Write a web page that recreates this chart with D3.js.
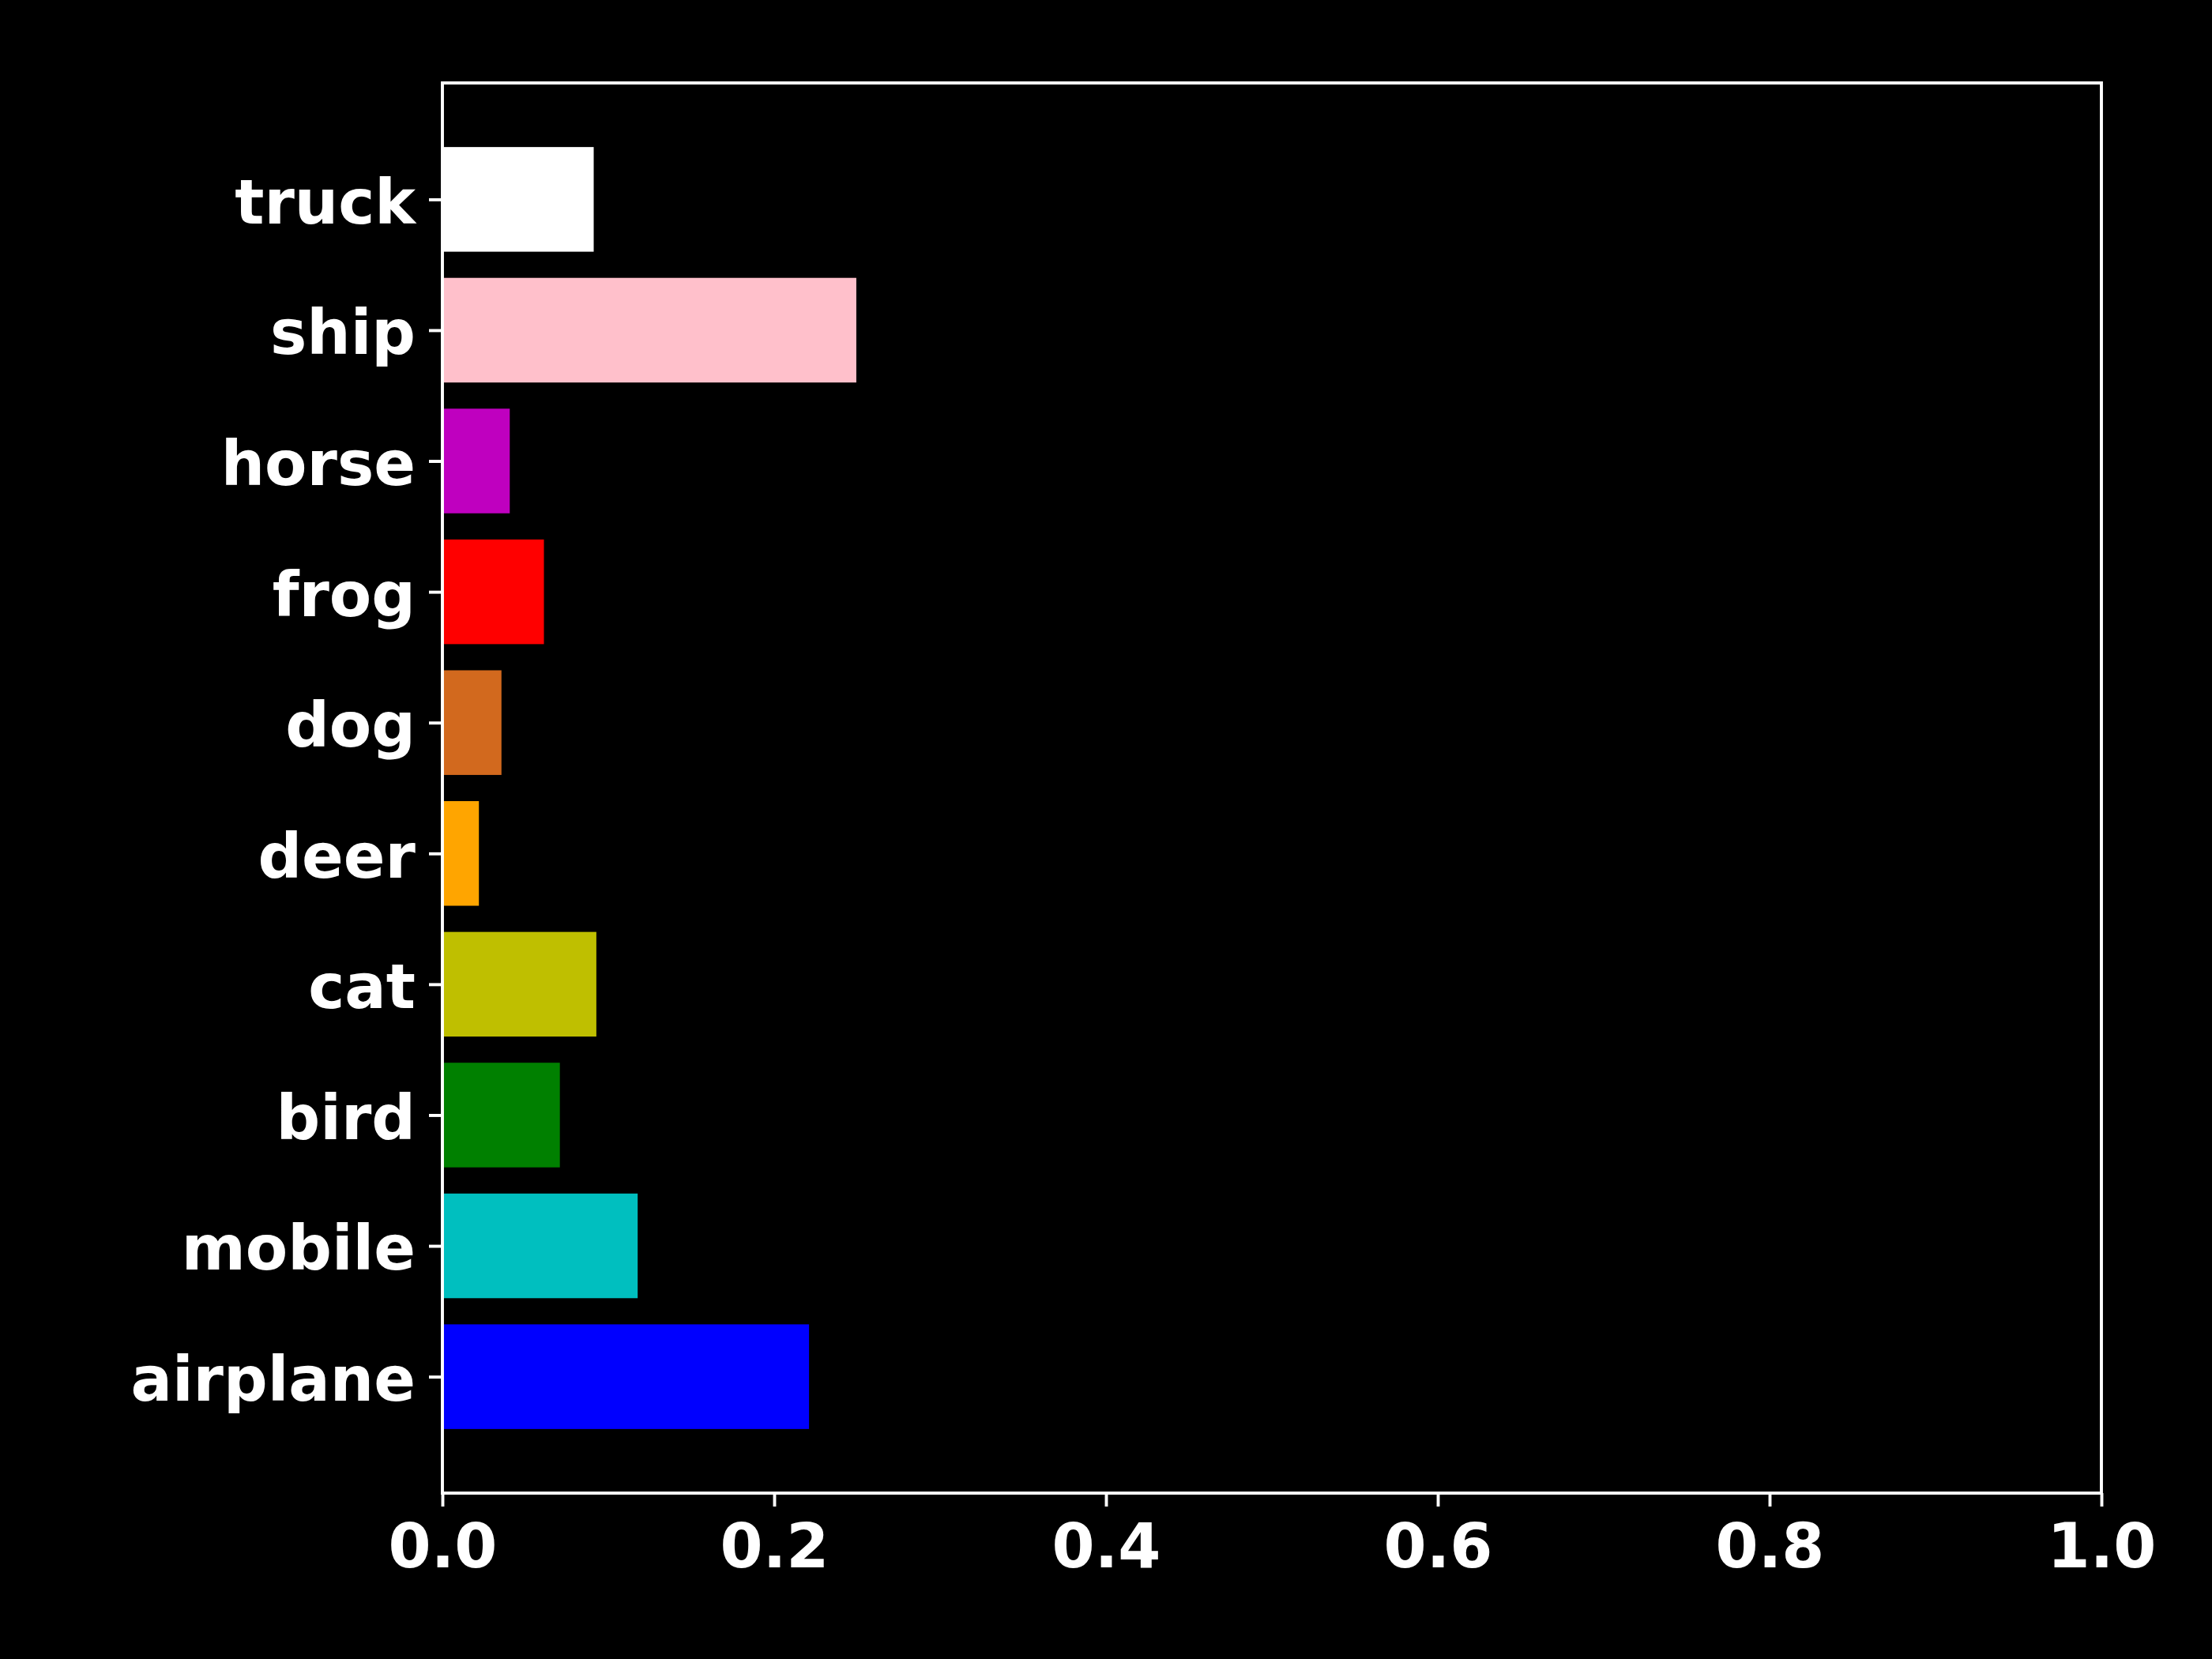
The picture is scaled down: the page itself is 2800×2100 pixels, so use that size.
<!DOCTYPE html>
<html>
<head>
<meta charset="utf-8">
<script src="https://cdn.jsdelivr.net/npm/d3@7"></script>
<style>
  html, body { margin: 0; padding: 0; background: #000; }
  svg { display: block; }
  text { font-family: "DejaVu Sans", sans-serif; font-weight: bold; }
</style>
</head>
<body>
<svg id="chart" width="2800" height="2100"></svg>
<script>
// Data
const categories = ["airplane", "mobile", "bird", "cat", "deer", "dog", "frog", "horse", "ship", "truck"];
const values = [0.221, 0.1177, 0.0708, 0.0928, 0.0220, 0.0356, 0.0612, 0.0406, 0.2495, 0.0912];
const barColors = ["#0000ff", "#00bfbf", "#008000", "#bfbf00", "#ffa500", "#d2691e", "#ff0000", "#bf00bf", "#ffc0cb", "#ffffff"];
const xTicks = [0.0, 0.2, 0.4, 0.6, 0.8, 1.0];

const W = 2800, H = 2100;
const axLeft = 560, axRight = 2660, axTop = 105, axBottom = 1890;
const fontPx = 77.8;
const tickLen = 17, pad = 17, lw = 3.9;

const svg = d3.select("#chart");
svg.append("rect").attr("width", W).attr("height", H).attr("fill", "#000");

const x = d3.scaleLinear().domain([0, 1]).range([axLeft, axRight]);
const barH = 0.8;
const n = categories.length;
const marg = 0.05 * ((n - 1 + barH / 2) - (-barH / 2));
const y = d3.scaleLinear().domain([-barH / 2 - marg, n - 1 + barH / 2 + marg]).range([axBottom, axTop]);

// Bars
svg.append("g").selectAll("rect")
  .data(values)
  .join("rect")
  .attr("x", x(0))
  .attr("y", (d, i) => y(i + barH / 2))
  .attr("width", d => x(d) - x(0))
  .attr("height", (d, i) => y(i - barH / 2) - y(i + barH / 2))
  .attr("fill", (d, i) => barColors[i]);

// X axis
const xAxis = d3.axisBottom(x).tickValues(xTicks).tickFormat(d3.format(".1f")).tickSize(tickLen).tickPadding(pad);
const gx = svg.append("g").attr("transform", `translate(0,${axBottom})`).call(xAxis);
gx.select(".domain").remove();
gx.selectAll(".tick line").attr("stroke", "#fff").attr("stroke-width", lw);
gx.selectAll(".tick text")
  .attr("fill", "#fff")
  .attr("font-size", fontPx)
  .attr("dy", null)
  .attr("y", 94);

// Y axis
const yAxis = d3.axisLeft(y).tickValues(d3.range(n)).tickFormat(i => categories[i]).tickSize(tickLen).tickPadding(pad);
const gy = svg.append("g").attr("transform", `translate(${axLeft},0)`).call(yAxis);
gy.select(".domain").remove();
gy.selectAll(".tick line").attr("stroke", "#fff").attr("stroke-width", lw);
gy.selectAll(".tick text")
  .attr("fill", "#fff")
  .attr("font-size", fontPx)
  .attr("dy", null)
  .attr("y", 0.385 * fontPx);

// Spines
svg.append("rect")
  .attr("x", axLeft).attr("y", axTop)
  .attr("width", axRight - axLeft).attr("height", axBottom - axTop)
  .attr("fill", "none").attr("stroke", "#fff").attr("stroke-width", lw);
</script>
</body>
</html>
